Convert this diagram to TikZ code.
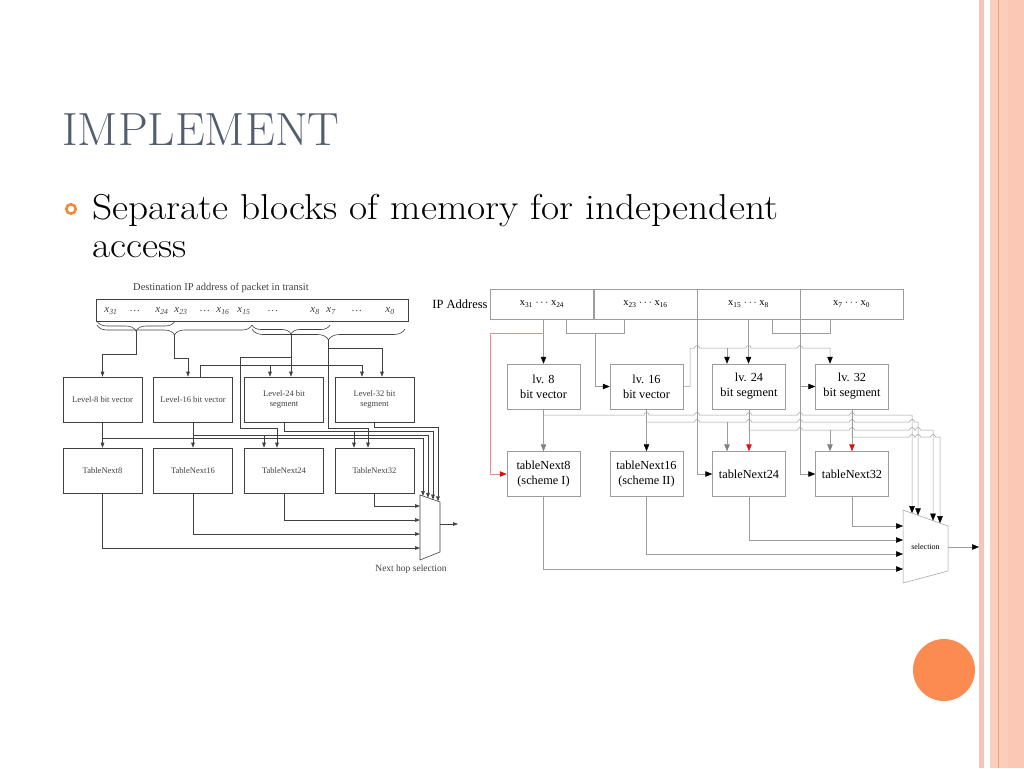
\documentclass[tikz,border=0pt]{standalone}
\usepackage{fontspec}
\usetikzlibrary{arrows.meta,decorations.pathreplacing}
\newfontfamily\diagfont{Liberation Serif}
\newcommand{\bitx}[1]{x\textsubscript{#1}}
\newcommand{\wide}[1]{\scalebox{1.095}[1]{#1}}
\definecolor{titlegray}{HTML}{525D6F}
\definecolor{bulletorange}{HTML}{F08A3C}
\definecolor{dotorange}{HTML}{FC8B51}
\definecolor{stripeA}{HTML}{F6C3B4}
\definecolor{stripeB}{HTML}{FACDBC}
\definecolor{stripeC}{HTML}{FCC8B6}
\definecolor{stripeline}{HTML}{EBA082}
\definecolor{lgray}{HTML}{404040}
\definecolor{rgray}{HTML}{9C9C9C}
\definecolor{tipred}{HTML}{E01010}
\definecolor{pinkline}{HTML}{F08A8A}
\tikzstyle{lbox} = [draw=lgray, line width=0.6pt, minimum width=79pt, minimum height=45pt, align=center, text=lgray, font=\diagfont\fontsize{8.5}{10.5}\selectfont]
\tikzstyle{bitlab} = [inner sep=0pt, text=lgray, font=\diagfont\itshape\fontsize{11}{12}\selectfont]
\tikzstyle{lwire} = [draw=lgray, line width=0.6pt]
\tikzstyle{larrow} = [lwire, -{Triangle[length=5pt,width=3.6pt]}]
\tikzstyle{lbrace} = [lwire, decorate, decoration={brace, mirror}]
\tikzstyle{rbox} = [draw=rgray, line width=0.5pt, minimum width=73pt, minimum height=45pt, align=center, font=\diagfont\fontsize{12.3}{15}\selectfont]
\tikzstyle{cell} = [draw=rgray, line width=0.5pt, minimum width=103pt, minimum height=30pt, font=\diagfont\fontsize{10.5}{12}\selectfont]
\tikzstyle{rwire} = [draw=rgray, line width=0.5pt]
\tikzstyle{rarrow} = [rwire, -{Triangle[length=7pt,width=5.5pt,color=black,fill=black]}]
\tikzstyle{garrow} = [rwire, -{Triangle[length=7pt,width=5.5pt,color=gray,fill=gray]}]
\tikzstyle{redarrow} = [rwire, -{Triangle[length=7pt,width=5.5pt,color=tipred,fill=tipred]}]

\begin{document}
\begin{tikzpicture}[x=1pt,y=-1pt]
  \useasboundingbox (0,0) rectangle (1024,768);
  \fill[white] (0,0) rectangle (1024,768);
  \fill[stripeA] (979,0) rectangle (984,768);
  \fill[stripeB] (990,0) rectangle (1024,768);
  \fill[stripeC] (1008,0) rectangle (1024,768);
  \draw[stripeline, line width=1pt] (998.5,0) -- (998.5,768);
  \fill[dotorange] (944,670) circle (31);

  \node (title) at (62,145.5) [anchor=base west, inner sep=0pt, text=titlegray, font=\fontsize{43.5}{50}\selectfont] {\scalebox{1.09}[1.07]{IMPLEMENT}};
  \node (bul) at (71,209) [circle, draw=bulletorange, line width=2.6pt, minimum size=9.4pt, inner sep=0pt] {};
  \node (txt) at (92,257) [anchor=base west, inner sep=0pt, align=left, font=\fontsize{36}{38}\selectfont] {\wide{Separate blocks of memory for independent}\\\wide{access}};

  % left figure
  \node (dest) at (221,288) [text=lgray, font=\diagfont\fontsize{10.5}{12}\selectfont] {Destination IP address of packet in transit};
  \node (addr) at (252,310) [draw=lgray, line width=0.6pt, minimum width=312pt, minimum height=22pt, inner sep=0pt] {};
  \foreach \xp/\lab [count=\i] in {111/\bitx{31}, 135/\ldots, 162/\bitx{24}, 181/\bitx{23}, 205/\ldots, 223/\bitx{16}, 244/\bitx{15}, 273/\ldots, 315/\bitx{8}, 331/\bitx{7}, 357/\ldots, 390/\bitx{0}}
    \node (bit\i) at (\xp,311) [bitlab] {\lab};

  \draw[lbrace, decoration={amplitude=10pt}] (97,321) -- (175,321);
  \draw[lbrace, decoration={amplitude=10pt}] (97,325) -- (252,325);
  \draw[lbrace, decoration={amplitude=9pt}] (252,325) -- (330,325);
  \draw[lbrace, decoration={amplitude=11pt}] (252,329) -- (405,329);
  \coordinate (ta) at (136,331);
  \coordinate (tb) at (174.5,335);
  \coordinate (tc) at (291,334);
  \coordinate (td) at (328.5,340);

  \node (l8) at (102.5,399.5) [lbox] {Level-8 bit vector};
  \node (l16) at (193,399.5) [lbox] {Level-16 bit vector};
  \node (l24) at (284,399.5) [lbox] {Level-24 bit\\segment};
  \node (l32) at (374.5,399.5) [lbox] {Level-32 bit\\segment};
  \node (t8) at (102.5,470.5) [lbox] {TableNext8};
  \node (t16) at (193,470.5) [lbox] {TableNext16};
  \node (t24) at (284,470.5) [lbox] {TableNext24};
  \node (t32) at (374.5,470.5) [lbox] {TableNext32};

  \coordinate (m1) at (423,496);
  \coordinate (m2) at (428,497.8);
  \coordinate (m3) at (433,499.6);
  \coordinate (m4) at (438,501.3);
  \coordinate (mi1) at (420,506);
  \coordinate (mi2) at (420,520);
  \coordinate (mi3) at (420,534);
  \coordinate (mi4) at (420,548);
  \coordinate (mo) at (440,524);
  \coordinate (mout) at (458,524);
  \draw[lwire] (420,495) -- (440,502) -- (440,552) -- (420,560) -- cycle;
  \node (nhs) at (411,569) [text=lgray, font=\diagfont\fontsize{9.5}{11}\selectfont] {Next hop selection};

  \draw[larrow] (ta) -- ++(0,23) -| (l8.north);
  \draw[larrow] (tb) -- ++(0,23) -| (l16.north -| 188,0);
  \draw[larrow] (tc) -- (l24.north -| tc);
  \draw[larrow] (tc |- 0,357) -| (240,428) -| (t24.north -| 277,0);
  \draw[larrow] (td) -- (328.5,348) -| (l32.north -| 382,0);
  \draw[larrow] (td) -- (328.5,428) -| (t32.north -| 368,0);
  \draw[larrow] (l16.north -| 200,0) -- (200,365) -| (l32.north -| 362,0);
  \draw[larrow] (270,365) -- (l24.north -| 270,0);

  \draw[larrow] (l8.south) -- (t8.north);
  \draw[larrow] (l16.south) -- (t16.north);
  \draw[larrow] (l8.south |- 0,438) -| (m1);
  \draw[larrow] (l16.south |- 0,435) -| (m2);
  \draw[larrow] (264,435) -- (t24.north -| 264,0);
  \draw[larrow] (l24.south) -- ++(0,9) -| (m3);
  \draw[larrow] (354,431) -- (t32.north -| 354,0);
  \draw[larrow] (l32.south) -- ++(0,5) -| (m4);
  \draw[larrow] (t32.south) |- (mi1);
  \draw[larrow] (t24.south) |- (mi2);
  \draw[larrow] (t16.south) |- (mi3);
  \draw[larrow] (t8.south) |- (mi4);
  \draw[larrow] (mo) -- (mout);

  % right figure
  \node (ipl) at (460,304) [font=\diagfont\fontsize{12.5}{14}\selectfont] {IP Address};
  \node (c1) at (542,304) [cell] {\bitx{31} $\cdots$ \bitx{24}};
  \node (c2) at (645.5,304) [cell] {\bitx{23} $\cdots$ \bitx{16}};
  \node (c3) at (748.5,304) [cell] {\bitx{15} $\cdots$ \bitx{8}};
  \node (c4) at (851.5,304) [cell] {\bitx{7} $\cdots$ \bitx{0}};

  \node (lv8) at (543.5,386.5) [rbox] {lv. 8\\bit vector};
  \node (lv16) at (646.5,386.5) [rbox] {lv. 16\\bit vector};
  \node (lv24) at (749,386.5) [rbox] {lv. 24\\bit segment};
  \node (lv32) at (852,386.5) [rbox] {lv. 32\\bit segment};
  \node (tn8) at (543.5,474) [rbox] {tableNext8\\(scheme I)};
  \node (tn16) at (646.5,474) [rbox] {tableNext16\\(scheme II)};
  \node (tn24) at (749,474) [rbox] {tableNext24};
  \node (tn32) at (852,474) [rbox] {tableNext32};

  \coordinate (mtl) at (903,510);
  \coordinate (mtr) at (948,526);
  \coordinate (mbr) at (948,571);
  \coordinate (mbl) at (903,583);
  \draw[rwire] (mtl) -- (mtr) -- (mbr) -- (mbl) -- cycle;
  \node (sel) at (925.5,547) [font=\diagfont\fontsize{8}{9}\selectfont] {selection};
  \coordinate (st1) at (912,513.2);
  \coordinate (st2) at (918,515.3);
  \coordinate (st3) at (933,520.7);
  \coordinate (st4) at (940,523.2);
  \coordinate (sl1) at (903,526);
  \coordinate (sl2) at (903,540);
  \coordinate (sl3) at (903,554);
  \coordinate (sl4) at (903,569);
  \coordinate (so) at (948,547);
  \coordinate (sout) at (979,547);

  \draw[rarrow] (lv8.north |- c1.south) -- (lv8.north);
  \coordinate (redsplit) at (lv8.north |- 0,333);
  \draw[rwire, draw=pinkline, -{Triangle[length=7pt,width=5.5pt,color=tipred,fill=tipred]}] (redsplit) -| (490,474) -- (tn8.west);
  \draw[rwire] (c1.south -| 566,0) -- (566,333) -| (c2.south -| 624,0);
  \draw[rarrow] (595,333) |- (lv16.west);
  \draw[rwire] (c3.south -| 772,0) -- (772,333) -| (c4.south -| 830,0);
  \draw[rarrow] (c3.south west) |- (tn24.west);
  \draw[rarrow] (c4.south west) |- (tn32.west);
  \draw[rarrow] (c4.south west) |- (lv32.west);
  \draw[rarrow] (c3.south) -- (c3.south |- lv24.north);
  \draw[rarrow] (lv16.east) -| (690,348) foreach \h in {697,748.5,800} {-- (\h-2.5,348) arc[start angle=180, end angle=360, radius=2.5]} -| (lv32.north -| 830,0);
  \draw[rarrow] (727,348) -- (lv24.north -| 727,0);

  \draw[garrow] (lv8.south) -- (tn8.north);
  \draw[rarrow] (lv16.south) -- (tn16.north);
  \draw[redarrow] (lv24.south) -- (tn24.north);
  \draw[redarrow] (lv32.south) -- (tn32.north);
  \draw[rarrow] (lv8.south) -- (lv8.south |- 0,415) foreach \h in {646.5,697,749,800,852} {-- (\h-2.5,415) arc[start angle=180, end angle=360, radius=2.5]} -| (st1);
  \draw[rarrow] (lv16.south) -- (lv16.south |- 0,422) foreach \h in {697,749,800,852,912} {-- (\h-2.5,422) arc[start angle=180, end angle=360, radius=2.5]} -| (st2);
  \draw[garrow] (727,422) -- (tn24.north -| 727,0);
  \draw[rarrow] (lv24.south) -- (lv24.south |- 0,430) foreach \h in {800,852,912,918} {-- (\h-2.5,430) arc[start angle=180, end angle=360, radius=2.5]} -| (st3);
  \draw[garrow] (830,430) -- (tn32.north -| 830,0);
  \draw[rarrow] (lv32.south) -- (lv32.south |- 0,437) foreach \h in {912,918,933} {-- (\h-2.5,437) arc[start angle=180, end angle=360, radius=2.5]} -| (st4);

  \draw[rarrow] (tn32.south) |- (sl1);
  \draw[rarrow] (tn24.south) |- (sl2);
  \draw[rarrow] (tn16.south) |- (sl3);
  \draw[rarrow] (tn8.south) |- (sl4);
  \draw[rarrow] (so) -- (sout);
\end{tikzpicture}
\end{document}
